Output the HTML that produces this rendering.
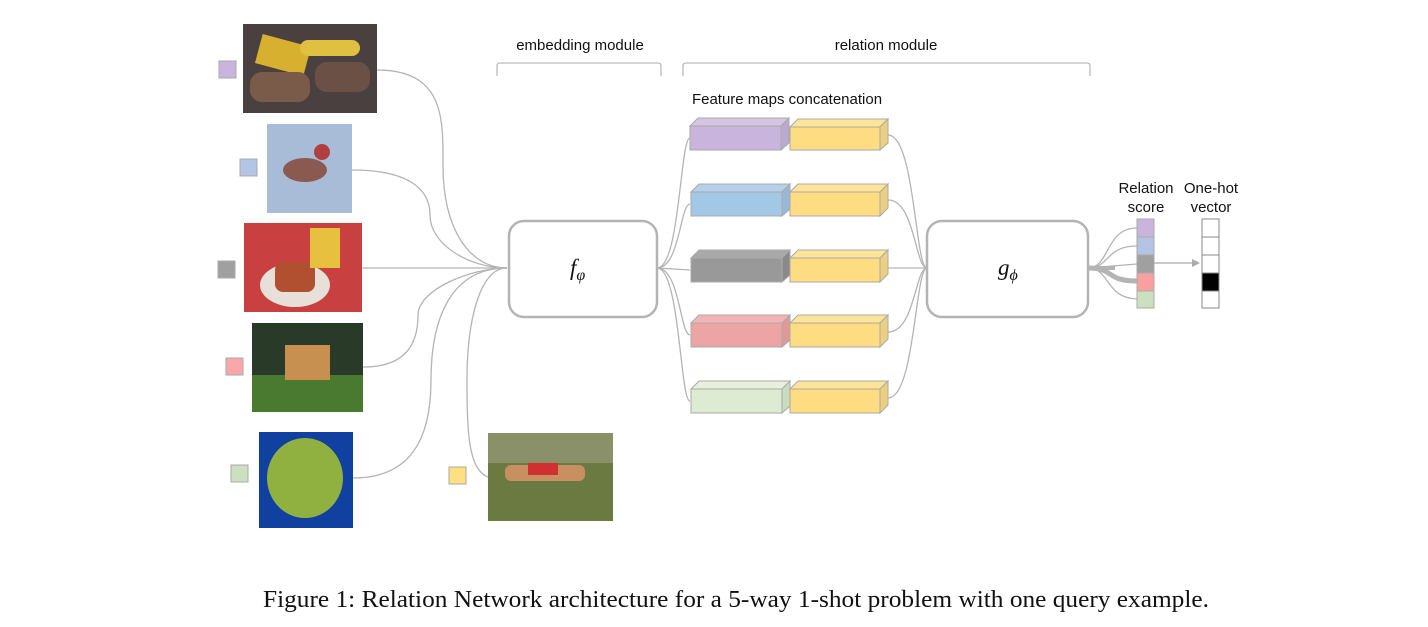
<!DOCTYPE html>
<html><head><meta charset="utf-8"><style>
body{margin:0;background:#fff;}
svg{display:block}
</style></head><body>
<svg width="1428" height="627" viewBox="0 0 1428 627" xmlns="http://www.w3.org/2000/svg" font-family="Liberation Sans, sans-serif">
<rect width="1428" height="627" fill="#fff"/>
<!-- images -->
<rect x="243" y="24" width="134" height="89" fill="#4a4040"/>
<rect x="258" y="40" width="50" height="30" fill="#d8b030" transform="rotate(15 283 55)"/>
<rect x="300" y="40" width="60" height="16" fill="#e0c040" rx="8"/>
<rect x="250" y="72" width="60" height="30" fill="#7a5a48" rx="12"/>
<rect x="315" y="62" width="55" height="30" fill="#6b5045" rx="12"/>
<rect x="267" y="124" width="85" height="89" fill="#a8bcd8"/>
<ellipse cx="305" cy="170" rx="22" ry="12" fill="#8a5a50"/>
<circle cx="322" cy="152" r="8" fill="#b04040"/>
<rect x="244" y="223" width="118" height="89" fill="#c84040"/>
<ellipse cx="295" cy="285" rx="35" ry="22" fill="#e8e0d8"/>
<rect x="275" y="262" width="40" height="30" fill="#b05030" rx="8"/>
<rect x="310" y="228" width="30" height="40" fill="#e8c040"/>
<rect x="252" y="323" width="111" height="89" fill="#2a3a28"/>
<rect x="252" y="375" width="111" height="37" fill="#4a7a30"/>
<rect x="285" y="345" width="45" height="35" fill="#c89050"/>
<rect x="259" y="432" width="94" height="96" fill="#1040a0"/>
<ellipse cx="305" cy="478" rx="38" ry="40" fill="#90b040"/>
<rect x="488" y="433" width="125" height="88" fill="#6a7a40"/>
<rect x="488" y="433" width="125" height="30" fill="#8a9068"/>
<rect x="505" y="465" width="80" height="16" fill="#c89060" rx="6"/>
<rect x="528" y="463" width="30" height="12" fill="#d03030"/>
<!-- label squares -->
<g stroke="#aaa" stroke-width="1">
<rect x="219" y="61" width="17" height="17" fill="#c8b4dc"/>
<rect x="240" y="159" width="17" height="17" fill="#b4c4e4"/>
<rect x="218" y="261" width="17" height="17" fill="#a0a0a0"/>
<rect x="226" y="358" width="17" height="17" fill="#f8a8a8"/>
<rect x="231" y="465" width="17" height="17" fill="#cce0c0"/>
<rect x="449" y="467" width="17" height="17" fill="#fde080"/>
</g>
<!-- curves to f -->
<g fill="none" stroke="#b4b4b4" stroke-width="1.3">
<path d="M377,70 C445,70 443,120 443,165 C443,230 470,268 507,268"/>
<path d="M352,170 C410,170 430,190 430,215 C430,245 470,268 507,268"/>
<path d="M362,268 L507,268"/>
<path d="M363,367 C405,367 418,345 418,315 C418,290 470,268 507,268"/>
<path d="M353,478 C410,478 431,440 431,380 C431,320 450,268 507,268"/>
<path d="M488,477 C468,470 467,430 467,380 C467,320 480,268 507,268"/>
<path d="M657,268 C680,268 680,138 690,138"/>
<path d="M657,268 C680,268 680,204 690,204"/>
<path d="M657,268 L690,270"/>
<path d="M657,268 C680,268 680,335 690,335"/>
<path d="M657,268 C680,268 680,401 690,401"/>
<path d="M888,135 C915,135 915,268 927,268"/>
<path d="M888,200 C915,200 915,268 927,268"/>
<path d="M888,268 L927,268"/>
<path d="M888,332 C915,332 915,268 927,268"/>
<path d="M888,398 C915,398 915,268 927,268"/>
<path d="M1088,268 C1110,268 1105,228 1137,228"/>
<path d="M1088,268 C1110,268 1105,246 1137,246"/>
<path d="M1088,268 C1110,268 1105,298 1137,299"/>
<path d="M1088,268 L1137,264"/>
</g>
<path d="M1088,268 C1115,268 1105,281 1137,281" fill="none" stroke="#b4b4b4" stroke-width="5"/>
<path d="M1088,268 L1115,268" fill="none" stroke="#b4b4b4" stroke-width="4"/>
<!-- brackets -->
<g fill="none" stroke="#bbb" stroke-width="1.3">
<path d="M497,76 L497,66 Q497,63 500,63 L658,63 Q661,63 661,66 L661,76"/>
<path d="M683,76 L683,66 Q683,63 686,63 L1087,63 Q1090,63 1090,66 L1090,76"/>
</g>
<text x="580" y="50" font-size="15" text-anchor="middle" fill="#111">embedding module</text>
<text x="886" y="50" font-size="15" text-anchor="middle" fill="#111">relation module</text>
<text x="787" y="104" font-size="15" text-anchor="middle" fill="#111">Feature maps concatenation</text>
<!-- boxes -->
<rect x="509" y="221" width="148" height="96" rx="15" fill="#fff" stroke="#b4b4b4" stroke-width="2.5"/>
<rect x="927" y="221" width="161" height="96" rx="15" fill="#fff" stroke="#b4b4b4" stroke-width="2.5"/>
<text x="570" y="275" font-family="Liberation Serif, serif" font-style="italic" font-size="23" fill="#111">f<tspan font-size="16" dy="5">φ</tspan></text>
<text x="998" y="275" font-family="Liberation Serif, serif" font-style="italic" font-size="23" fill="#111">g<tspan font-size="16" dy="5">ϕ</tspan></text>
<!-- feature blocks -->
<g stroke="#aaa" stroke-width="1">
<polygon points="690,126 698,118 789,118 781,126" fill="#d6c4e4"/><polygon points="781,126 789,118 789,143 781,150" fill="#bca8d0"/><rect x="690" y="126" width="91" height="24" fill="#c8b4dc"/>
<polygon points="790,127 798,119 888,119 880,127" fill="#fee498"/><polygon points="880,127 888,119 888,143 880,150" fill="#ecd080"/><rect x="790" y="127" width="90" height="23" fill="#fedc82"/>
<polygon points="691,192 699,184 790,184 782,192" fill="#b4d0ea"/><polygon points="782,192 790,184 790,209 782,216" fill="#98b8d8"/><rect x="691" y="192" width="91" height="24" fill="#a2c8e6"/>
<polygon points="790,192 798,184 888,184 880,192" fill="#fee498"/><polygon points="880,192 888,184 888,208 880,216" fill="#ecd080"/><rect x="790" y="192" width="90" height="24" fill="#fedc82"/>
<polygon points="691,258 699,250 790,250 782,258" fill="#a8a8a8"/><polygon points="782,258 790,250 790,275 782,282" fill="#8a8a8a"/><rect x="691" y="258" width="91" height="24" fill="#999"/>
<polygon points="790,258 798,250 888,250 880,258" fill="#fee498"/><polygon points="880,258 888,250 888,274 880,282" fill="#ecd080"/><rect x="790" y="258" width="90" height="24" fill="#fedc82"/>
<polygon points="691,323 699,315 790,315 782,323" fill="#f4b4b4"/><polygon points="782,323 790,315 790,340 782,347" fill="#e09898"/><rect x="691" y="323" width="91" height="24" fill="#eca4a4"/>
<polygon points="790,323 798,315 888,315 880,323" fill="#fee498"/><polygon points="880,323 888,315 888,339 880,347" fill="#ecd080"/><rect x="790" y="323" width="90" height="24" fill="#fedc82"/>
<polygon points="691,389 699,381 790,381 782,389" fill="#e6f0dc"/><polygon points="782,389 790,381 790,406 782,413" fill="#cadcbc"/><rect x="691" y="389" width="91" height="24" fill="#dcebd2"/>
<polygon points="790,389 798,381 888,381 880,389" fill="#fee498"/><polygon points="880,389 888,381 888,405 880,413" fill="#ecd080"/><rect x="790" y="389" width="90" height="24" fill="#fedc82"/>
</g>
<!-- scores -->
<g stroke="#aaa" stroke-width="1">
<rect x="1137" y="219" width="17" height="18" fill="#c8b4dc"/>
<rect x="1137" y="237" width="17" height="18" fill="#b4c4e4"/>
<rect x="1137" y="255" width="17" height="18" fill="#a0a0a0"/>
<rect x="1137" y="273" width="17" height="18" fill="#f8a0a0"/>
<rect x="1137" y="291" width="17" height="17" fill="#cce0c0"/>
<rect x="1202" y="219" width="17" height="18" fill="#fff" stroke="#888"/>
<rect x="1202" y="237" width="17" height="18" fill="#fff" stroke="#888"/>
<rect x="1202" y="255" width="17" height="18" fill="#fff" stroke="#888"/>
<rect x="1202" y="273" width="17" height="18" fill="#000" stroke="#888"/>
<rect x="1202" y="291" width="17" height="17" fill="#fff" stroke="#888"/>
</g>
<line x1="1154" y1="263" x2="1194" y2="263" stroke="#aaa" stroke-width="1.3"/>
<polygon points="1200,263 1192,259 1192,267" fill="#aaa"/>
<text x="1146" y="193" font-size="15" text-anchor="middle" fill="#111">Relation</text>
<text x="1146" y="212" font-size="15" text-anchor="middle" fill="#111">score</text>
<text x="1211" y="193" font-size="15" text-anchor="middle" fill="#111">One-hot</text>
<text x="1211" y="212" font-size="15" text-anchor="middle" fill="#111">vector</text>
<text x="263" y="607" font-family="Liberation Serif, serif" font-size="24" textLength="946" lengthAdjust="spacingAndGlyphs" fill="#111">Figure 1: Relation Network architecture for a 5-way 1-shot problem with one query example.</text>
</svg>
</body></html>
